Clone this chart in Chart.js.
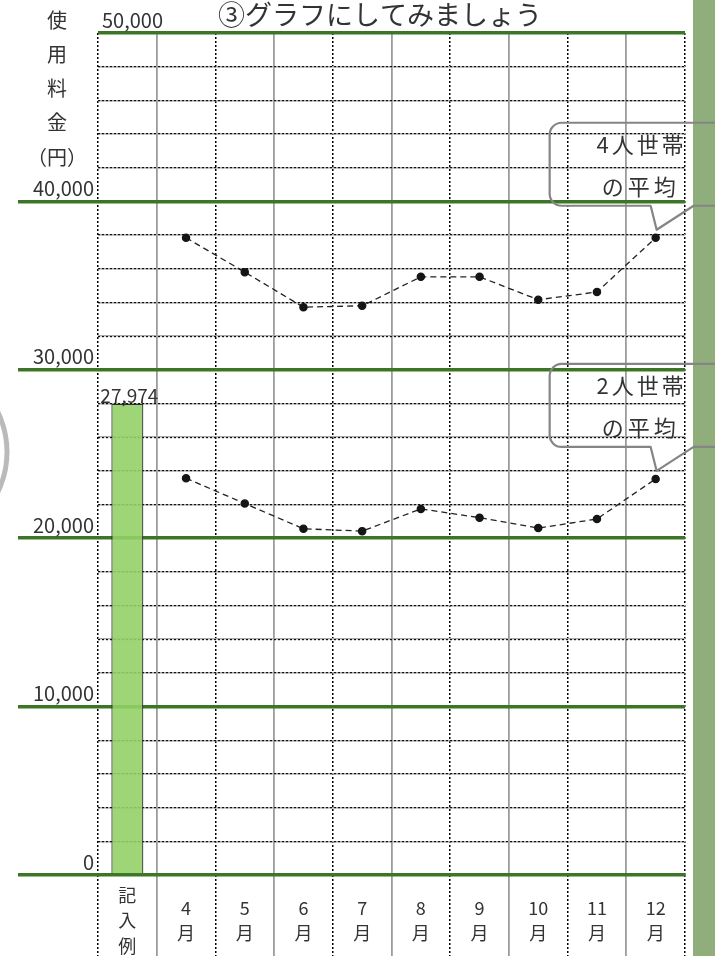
<!DOCTYPE html>
<html><head><meta charset="utf-8">
<script src="https://cdn.jsdelivr.net/npm/chart.js@4.4.1/dist/chart.umd.min.js"></script>
<style>html,body{margin:0;padding:0;background:#fff;overflow:hidden}#wrap{position:absolute;left:0;top:0;width:715px;height:956px}</style>
</head><body><div id="wrap"><canvas id="c"></canvas></div>
<script>
// ---- data ----
const categories = [['記','入','例'],['4','月'],['5','月'],['6','月'],['7','月'],['8','月'],['9','月'],['10','月'],['11','月'],['12','月']];
const exampleValues = [27974, null, null, null, null, null, null, null, null, null];
const fourPersonAvg = [null, 37840, 35800, 33720, 33800, 35520, 35520, 34160, 34620, 37840];
const twoPersonAvg  = [null, 23560, 22060, 20560, 20420, 21740, 21220, 20600, 21140, 23520];
const majorTicks = [0, 10000, 20000, 30000, 40000, 50000];
const labeledTicks = [0, 10000, 20000, 30000, 40000];
const topTickLabel = '50,000';
const titleText = '③グラフにしてみましょう';
const yTitleChars = ['使','用','料','金','（円）'];
const fourLabel = ['4人世帯','の平均'];
const twoLabel = ['2人世帯','の平均'];

const FONT = "'Noto Sans CJK JP','Noto Sans',sans-serif";
const GREEN = '#3c7526';
const TXT = '#333';
const isMajor = v => majorTicks.includes(v);
const clear = 'rgba(0,0,0,0)';

function spacedRight(ctx, text, rightX, y, sp) {
  const chars = Array.from(text);
  let x = rightX;
  for (let i = chars.length - 1; i >= 0; i--) {
    const w = ctx.measureText(chars[i]).width;
    x -= w;
    ctx.fillText(chars[i], x, y);
    x -= sp;
  }
}

function callout(ctx, W, px, py, lines) {
  const L = px - 106, T = py - 115, B = py - 32, R = W + 20, r = 12;
  ctx.save();
  ctx.strokeStyle = '#858585';
  ctx.lineWidth = 2.2;
  ctx.lineJoin = 'round';
  ctx.beginPath();
  ctx.moveTo(px - 5, B);
  ctx.lineTo(L + r, B);
  ctx.arcTo(L, B, L, B - r, r);
  ctx.lineTo(L, T + r);
  ctx.arcTo(L, T, L + r, T, r);
  ctx.lineTo(R, T);
  ctx.lineTo(R, B);
  ctx.lineTo(px + 38, B);
  ctx.lineTo(px + 1, py - 8);
  ctx.closePath();
  ctx.stroke();
  ctx.fillStyle = TXT;
  ctx.font = '22px ' + FONT;
  ctx.textAlign = 'left';
  ctx.textBaseline = 'middle';
  spacedRight(ctx, lines[0], px + 28, T + 22, 3);
  spacedRight(ctx, lines[1], px + 20, T + 64, 4);
  ctx.restore();
}

const decor = {
  id: 'decor',
  beforeDraw(chart) {
    const ctx = chart.ctx, W = chart.width, H = chart.height;
    ctx.save();
    ctx.fillStyle = '#fff';
    ctx.fillRect(0, 0, W, H);
    ctx.fillStyle = '#8fae7b';
    ctx.fillRect(W - 22, 0, 22, H);
    ctx.strokeStyle = 'rgba(130,130,130,0.55)';
    ctx.lineWidth = 5;
    ctx.beginPath();
    ctx.arc(-85, 452, 92, -Math.PI / 2, Math.PI / 2);
    ctx.stroke();
    ctx.restore();
  },
  afterDatasetsDraw(chart) {
    const ctx = chart.ctx;
    const meta = chart.getDatasetMeta(0);
    const el = meta.data[0];
    ctx.save();
    ctx.fillStyle = TXT;
    ctx.font = '19px ' + FONT;
    ctx.textAlign = 'center';
    ctx.textBaseline = 'alphabetic';
    ctx.fillText(exampleValues[0].toLocaleString('en-US'), el.x + 2, el.y - 1);
    ctx.restore();
  },
  afterDraw(chart) {
    const ctx = chart.ctx, W = chart.width;
    const y = chart.scales.y, ca = chart.chartArea;
    ctx.save();
    ctx.fillStyle = TXT;
    ctx.font = '27px ' + FONT;
    ctx.textAlign = 'left';
    ctx.textBaseline = 'middle';
    ctx.fillText(titleText, 218, 15);
    ctx.font = '20px ' + FONT;
    ctx.textAlign = 'center';
    yTitleChars.forEach((c, i) => ctx.fillText(c, 57, 20 + i * 34.3));
    ctx.font = '20px ' + FONT;
    ctx.textAlign = 'left';
    ctx.textBaseline = 'alphabetic';
    ctx.fillText(topTickLabel, ca.left + 4, y.getPixelForValue(50000) - 5);
    ctx.restore();
    const m4 = chart.getDatasetMeta(1).data[9];
    const m2 = chart.getDatasetMeta(2).data[9];
    callout(ctx, W, m4.x, m4.y, fourLabel);
    callout(ctx, W, m2.x, m2.y, twoLabel);
  }
};

Chart.defaults.font.family = FONT;
Chart.defaults.color = TXT;

new Chart(document.getElementById('c'), {
  type: 'bar',
  data: {
    labels: categories,
    datasets: [
      { type: 'bar', label: '記入例', data: exampleValues, backgroundColor: 'rgba(146,208,104,0.9)', borderColor: '#2e2e2e', borderWidth: 1.2, barPercentage: 0.545, categoryPercentage: 1, xAxisID: 'x', yAxisID: 'y' },
      { type: 'line', label: '4人世帯の平均', data: fourPersonAvg, borderColor: '#222', borderWidth: 1.3, borderDash: [6, 4], pointRadius: 3.6, pointBackgroundColor: '#151515', pointBorderColor: '#151515', tension: 0, xAxisID: 'x', yAxisID: 'y' },
      { type: 'line', label: '2人世帯の平均', data: twoPersonAvg, borderColor: '#222', borderWidth: 1.3, borderDash: [6, 4], pointRadius: 3.6, pointBackgroundColor: '#151515', pointBorderColor: '#151515', tension: 0, xAxisID: 'x', yAxisID: 'y' }
    ]
  },
  options: {
    responsive: true,
    maintainAspectRatio: false,
    animation: false,
    layout: { padding: { top: 33, right: 30, left: 0, bottom: 0 } },
    plugins: { legend: { display: false }, tooltip: { enabled: false } },
    scales: {
      x: {
        type: 'category',
        position: 'bottom',
        offset: true,
        border: { display: false },
        grid: {
          offset: true,
          color: c => (c.index !== undefined && c.index % 2 === 1) ? '#9c9c9c' : clear,
          lineWidth: 1.8,
          drawTicks: true,
          tickLength: 81,
          tickColor: c => (c.index !== undefined && c.index % 2 === 1) ? '#9c9c9c' : clear,
          tickWidth: 1.8
        },
        ticks: {
          autoSkip: false, maxRotation: 0, minRotation: 0,
          crossAlign: 'center',
          padding: -61,
          color: TXT,
          font: { size: 18, lineHeight: '25.5px' }
        },
        afterFit: s => { s.height = 81; }
      },
      x2: {
        type: 'category',
        position: 'bottom',
        weight: -1,
        offset: true,
        border: { display: false, dash: [2, 2] },
        grid: {
          offset: true,
          color: c => (c.index === undefined || c.index % 2 === 0) ? '#000' : clear,
          lineWidth: 1.5,
          drawTicks: true,
          tickLength: 81,
          tickColor: c => (c.index === undefined || c.index % 2 === 0) ? '#000' : clear,
          tickWidth: 1.5,
          tickBorderDash: [2, 2]
        },
        ticks: { display: false },
        afterFit: s => { s.width = s.width; s.height = 0; }
      },
      y: {
        type: 'linear',
        position: 'left',
        min: 0, max: 50000,
        border: { display: false },
        grid: {
          color: c => (c.tick && isMajor(c.tick.value)) ? GREEN : '#a8a8a8',
          lineWidth: c => (c.tick && isMajor(c.tick.value)) ? 3.5 : 1.5,
          drawTicks: true,
          tickLength: 80,
          tickColor: c => (c.tick && labeledTicks.includes(c.tick.value)) ? GREEN : clear,
          tickWidth: 3.5
        },
        ticks: {
          stepSize: 2000,
          maxTicksLimit: 40,
          autoSkip: false,
          padding: -76,
          labelOffset: -13,
          color: TXT,
          font: { size: 20 },
          callback: v => labeledTicks.includes(v) ? v.toLocaleString('en-US') : ''
        },
        afterFit: s => { s.width = 98; }
      },
      y2: {
        type: 'linear',
        position: 'left',
        min: 0, max: 50000,
        border: { display: false, dash: [2, 2] },
        grid: {
          color: c => (c.tick && !isMajor(c.tick.value)) ? '#111' : clear,
          lineWidth: 1.2,
          drawTicks: false
        },
        ticks: { display: false, stepSize: 2000, maxTicksLimit: 40 },
        afterFit: s => { s.width = 0; }
      }
    }
  },
  plugins: [decor]
});
</script>
</body></html>
